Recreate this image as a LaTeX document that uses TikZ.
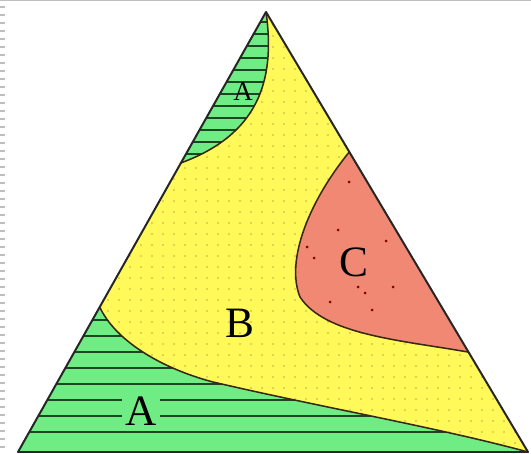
\documentclass[tikz,border=0pt]{standalone}
\usepackage{fontspec}
\setmainfont{Liberation Serif}
\usepackage{tikz}
\usetikzlibrary{calc}
\definecolor{phasegreen}{RGB}{112,236,132}
\definecolor{phaseyellow}{RGB}{255,250,90}
\definecolor{phasered}{RGB}{240,136,116}
\definecolor{dotbrown}{RGB}{210,165,55}
\definecolor{stripegreen}{RGB}{25,70,35}
\definecolor{framegray}{RGB}{190,190,190}
\newcommand{\fieldAupper}{(apex) .. controls (276,82) and (257,135) .. (topA)}
\newcommand{\fieldAlower}{(lowA) .. controls (115,340) and (160,368) .. (213,382) .. controls (320,407) and (440,428) .. (right)}
\newcommand{\fieldCedge}{(topC) .. controls (310,200) and (285,260) .. (300,297) .. controls (325,335) and (400,340) .. (lowC)}
\tikzset{
  sideline/.style={draw=black!85, line width=1.7pt, line join=round},
  boundary/.style={draw=black!70!brown, line width=1.3pt},
  stripe/.style={draw=stripegreen, line width=1.7pt},
  phaselabel/.style={font=\fontsize{37}{37}\selectfont, inner sep=1pt},
  smalllabel/.style={font=\fontsize{23}{23}\selectfont, inner sep=0pt},
}

\begin{document}
\begin{tikzpicture}[x=0.03cm, y=-0.03cm]
  \useasboundingbox (0,0) rectangle (531,454);

  % Frame
  \draw[framegray, line width=1pt] (0,0.5) -- (531,0.5);
  \foreach \y in {7,15,...,447}
    \draw[framegray, line width=1.2pt] (0,\y) -- (5,\y);

  % Triangle corners
  \coordinate (apex) at (266,12);
  \coordinate (left) at (18,452);
  \coordinate (right) at (528,452);

  % Where the fields meet the sides
  \coordinate (topA) at ($(apex)!0.343!(left)$);
  \coordinate (lowA) at ($(apex)!0.6705!(left)$);
  \coordinate (topC) at ($(apex)!0.318!(right)$);
  \coordinate (lowC) at ($(apex)!0.773!(right)$);

  % Field B
  \fill[phaseyellow] (apex) -- (left) -- (right) -- cycle;
  \begin{scope}
    \clip (apex) -- (left) -- (right) -- cycle;
    \foreach \x in {20,31,...,530}
      \foreach \y in {14,25,...,452}
        \fill[dotbrown] (\x,\y) circle (0.9);
  \end{scope}

  % Field A
  \fill[phasegreen] \fieldAupper -- cycle;
  \fill[phasegreen] \fieldAlower -- (left) -- cycle;

  % Field C
  \fill[phasered] \fieldCedge -- cycle;
  \foreach \p in {(349,182),(307,247),(314,258),(330,302),(365,293),(393,287),(358,287),(338,230),(386,241),(372,310)}
    \fill[red!50!black] \p circle (1.5);

  % Stripes
  \begin{scope}
    \clip \fieldAupper -- cycle;
    \foreach \y in {22,34,...,166}
      \draw[stripe] (150,\y) -- (300,\y);
  \end{scope}
  \begin{scope}
    \clip \fieldAlower -- (left) -- cycle;
    \foreach \y in {320,336,...,432}
      \draw[stripe] (0,\y) -- (531,\y);
  \end{scope}

  % Boundaries and sides
  \draw[boundary] \fieldAupper;
  \draw[boundary] \fieldAlower;
  \draw[boundary] \fieldCedge;
  \draw[sideline] (apex) -- (left) -- (right) -- cycle;

  % Labels
  \node[smalllabel] (labelAtop) at (243,92) {A};
  \node[phaselabel, fill=phasegreen, inner sep=3pt] (labelAlow) at (141,411) {A};
  \node[phaselabel] (labelB) at (240,323) {B};
  \node[phaselabel] (labelC) at (354,262) {C};
\end{tikzpicture}
\end{document}
